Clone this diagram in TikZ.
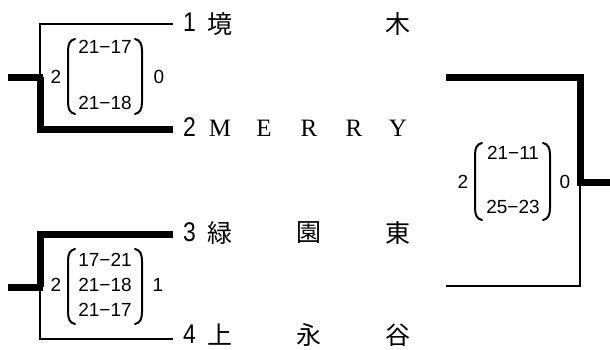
\documentclass[tikz,border=0pt]{standalone}
\usepackage{fontspec}
\newfontfamily\jpfont{Noto Sans CJK JP}
\newfontfamily\numfont{Liberation Sans}
\newfontfamily\seedfont[FakeStretch=0.85]{Liberation Sans}
\newfontfamily\latfont{Liberation Serif}
\begin{document}
\begin{tikzpicture}[x=1pt,y=-1pt,
  loseline/.style={line width=2.5pt},
  winline/.style={line width=7pt},
  seed/.style={font=\seedfont\fontsize{27}{27}\selectfont, inner sep=0pt, anchor=west},
  team/.style={font=\jpfont\fontsize{25}{25}\selectfont, inner sep=0pt},
  teamlat/.style={font=\latfont\fontsize{25}{25}\selectfont, inner sep=0pt},
  score/.style={font=\numfont\fontsize{19}{19}\selectfont, inner sep=0pt},
  paren/.style={line width=2pt, line cap=round}]
\useasboundingbox (0,0) rectangle (610,349);
% seeds
\node[seed] (s1) at (183,22) {1};
\node[seed] (s2) at (183,127) {2};
\node[seed] (s3) at (183,232) {3};
\node[seed] (s4) at (183,334) {4};
% team names
\node[team] (t1a) at (220,24) {境};
\node[team] (t1b) at (398,24) {木};
\node[teamlat] (t2a) at (220,128) {M};
\node[teamlat] (t2b) at (264,128) {E};
\node[teamlat] (t2c) at (309,128) {R};
\node[teamlat] (t2d) at (354,128) {R};
\node[teamlat] (t2e) at (398,128) {Y};
\node[team] (t3a) at (220,233) {緑};
\node[team] (t3b) at (309,233) {園};
\node[team] (t3c) at (398,233) {東};
\node[team] (t4a) at (220,335) {上};
\node[team] (t4b) at (309,335) {永};
\node[team] (t4c) at (398,335) {谷};
% bracket coordinates
\coordinate (a1) at (173,24);
\coordinate (a2) at (173,129);
\coordinate (a3) at (173,234);
\coordinate (a4) at (173,339);
\coordinate (ja) at (40,77);
\coordinate (jb) at (40,287);
\coordinate (stA) at (8,77);
\coordinate (stB) at (8,287);
\coordinate (f1) at (446,77);
\coordinate (f2) at (446,286);
\coordinate (jf) at (580,182);
\coordinate (stF) at (610,182);
% semifinal 1
\draw[loseline, line join=miter] (a1) -| (ja);
\draw[winline, line join=miter] (ja) |- (a2);
\draw[winline] (stA) -- ([xshift=3pt]ja);
% semifinal 2
\draw[winline, line join=miter] (a3) -| (jb);
\draw[loseline, line join=miter] (jb) |- (a4);
\draw[winline] (stB) -- ([xshift=3pt]jb);
% final
\draw[winline, line join=miter] (f1) -| (jf);
\draw[loseline, line join=miter] (jf) |- (f2);
\draw[winline] ([xshift=-3pt]jf) -- (stF);
% scores semifinal 1
\node[score] (l1) at (56,77) {2};
\node[score] (r1) at (159,77) {0};
\node[score] (g11) at (105,47) {21−17};
\node[score] (g12) at (105,103) {21−18};
\draw[paren] (75,39) .. controls (70,40) and (68,44) .. (68,51) -- (68,102) .. controls (68,109) and (70,113) .. (75,114);
\draw[paren] (135,39) .. controls (140,40) and (142,44) .. (142,51) -- (142,102) .. controls (142,109) and (140,113) .. (135,114);
% scores semifinal 2
\node[score] (l2) at (56,285) {2};
\node[score] (r2) at (158,285) {1};
\node[score] (g21) at (105,260) {17−21};
\node[score] (g22) at (105,285) {21−18};
\node[score] (g23) at (105,310) {21−17};
\draw[paren] (75,249) .. controls (70,250) and (68,254) .. (68,261) -- (68,312) .. controls (68,319) and (70,323) .. (75,324);
\draw[paren] (135,249) .. controls (140,250) and (142,254) .. (142,261) -- (142,312) .. controls (142,319) and (140,323) .. (135,324);
% scores final
\node[score] (l3) at (463,182) {2};
\node[score] (r3) at (565,182) {0};
\node[score] (g31) at (513,153) {21−11};
\node[score] (g32) at (513,207) {25−23};
\draw[paren] (482,143) .. controls (477,144) and (475,148) .. (475,155) -- (475,208) .. controls (475,215) and (477,219) .. (482,220);
\draw[paren] (543,143) .. controls (548,144) and (550,148) .. (550,155) -- (550,208) .. controls (550,215) and (548,219) .. (543,220);
\end{tikzpicture}
\end{document}
